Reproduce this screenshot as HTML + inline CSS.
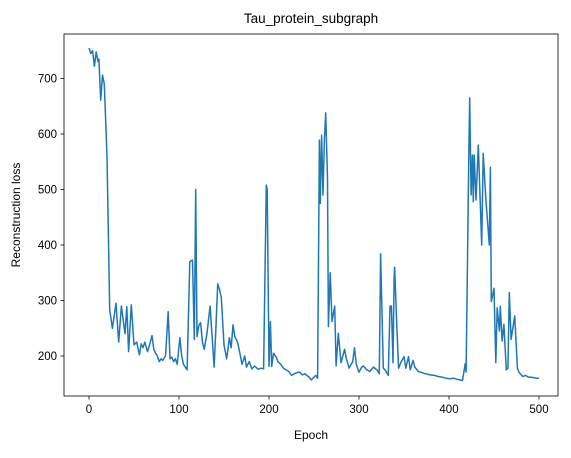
<!DOCTYPE html>
<html><head><meta charset="utf-8"><style>
body{margin:0;background:#fff;width:571px;height:453px;overflow:hidden}
svg text{font-family:"Liberation Sans","DejaVu Sans",sans-serif;fill:#000}
</style></head><body>
<svg id="chart" width="571" height="453" xmlns="http://www.w3.org/2000/svg">
<rect width="571" height="453" fill="#fff"/>
<text x="311" y="23" font-size="13.5" text-anchor="middle">Tau_protein_subgraph</text>
<text x="311" y="439" font-size="12" text-anchor="middle">Epoch</text>
<text x="20" y="215" font-size="12" text-anchor="middle" transform="rotate(-90 20 215)">Reconstruction loss</text>
<g id="ticks"></g>
<polyline id="line" fill="none" stroke="#1f77b4" stroke-width="1.5" stroke-linejoin="round"/>
<rect x="64" y="34" width="494" height="362" fill="none" stroke="#000" stroke-width="0.8"/>
</svg>
<script>
const epochs=[0,2,4,6,8,10,11,13,15,17,20,23,26,30,33,36,40,42,44,47,50,53,56,58,60,62,65,67,70,72,74,76,78,80,82,85,88,90,92,94,96,98,101,103,105,107,109,112,115,117,118.5,120,122,124,126,128,131,134.5,137,139,141,143,145,147,150,153,156,158,160,162,165,167,170,173,175,178,181,184,188,191,194,197,198,200,201.5,203,205,208,210,213,216,219,222,225,228,231,234,237,240,242,244.5,247,250,252,254,256,257,258.5,260,261.5,263,265,266,268,270,273,274.5,277,280,282,284,286,289,293,295,297,300,303,305,308,312,316,320,322.5,324,327,329,332.6,334.4,336,337.8,339,339.6,342,344,347,350,352,355,357,360,362,366,370,374,379,384,388,392,397,401,405,409,412,415,418,419,422,423,424.5,426,427,428,430,432.6,436.3,438,441,444.8,446,447,450,452,453.6,456,457,459,461,463.7,465.5,467,469,473,476,478,482,485,488,490,494,497,500];
const losses=[755,745,750,722,748,730,735,661,706,690,560,283,250,295,225,290,240,289,208,292,220,225,202,222,215,225,208,218,237,212,205,200,190,195,192,200,280,195,198,190,195,185,233,200,185,180,175,370,373,230,500,235,255,260,225,212,240,290,230,180,250,330,320,305,220,195,233,215,256,235,225,210,185,200,180,190,177,182,176,178,177,508,500,181,262,181,205,198,190,185,178,175,172,165,168,170,171,166,168,165,162,157,162,165,160,589,475,598,490,590,638,520,253,350,262,290,182,241,188,200,212,195,178,190,215,185,171,180,182,176,172,180,175,168,384,178,175,165,290,290,188,340,360,255,178,190,199,178,199,175,192,180,172,170,168,166,165,163,162,160,159,160,158,157,156,186,171,562,665,490,562,478,562,481,580,400,565,481,400,540,298,322,188,287,245,290,227,257,175,178,314,230,272,178,170,163,165,162,162,161,160,160,155];
const yTicks=[200,300,400,500,600,700];
const xTicks=[0,100,200,300,400,500];
const sx=e=>89+e*0.9;
const sy=v=>356-(v-200)*0.555;
const ns="http://www.w3.org/2000/svg";
const g=document.getElementById('ticks');
function mk(t,a){const el=document.createElementNS(ns,t);for(const k in a)el.setAttribute(k,a[k]);g.appendChild(el);return el;}
yTicks.forEach(v=>{
 const l=mk('line',{x1:60.5,x2:64,y1:sy(v),y2:sy(v),stroke:'#000','stroke-width':0.8});
 
 
 const t=mk('text',{x:57,y:sy(v)+4,'font-size':11.5,'text-anchor':'end'});t.textContent=v;
 
 
});
xTicks.forEach(v=>{
 const l=mk('line',{x1:sx(v),x2:sx(v),y1:396,y2:399.5,stroke:'#000','stroke-width':0.8});
 
 
 const t=mk('text',{x:sx(v),y:413,'font-size':11.5,'text-anchor':'middle'});t.textContent=v;
 
 
});
document.getElementById('line').setAttribute('points',epochs.map((e,i)=>sx(e).toFixed(1)+','+sy(losses[i]).toFixed(1)).join(' '));
</script>
</body></html>
